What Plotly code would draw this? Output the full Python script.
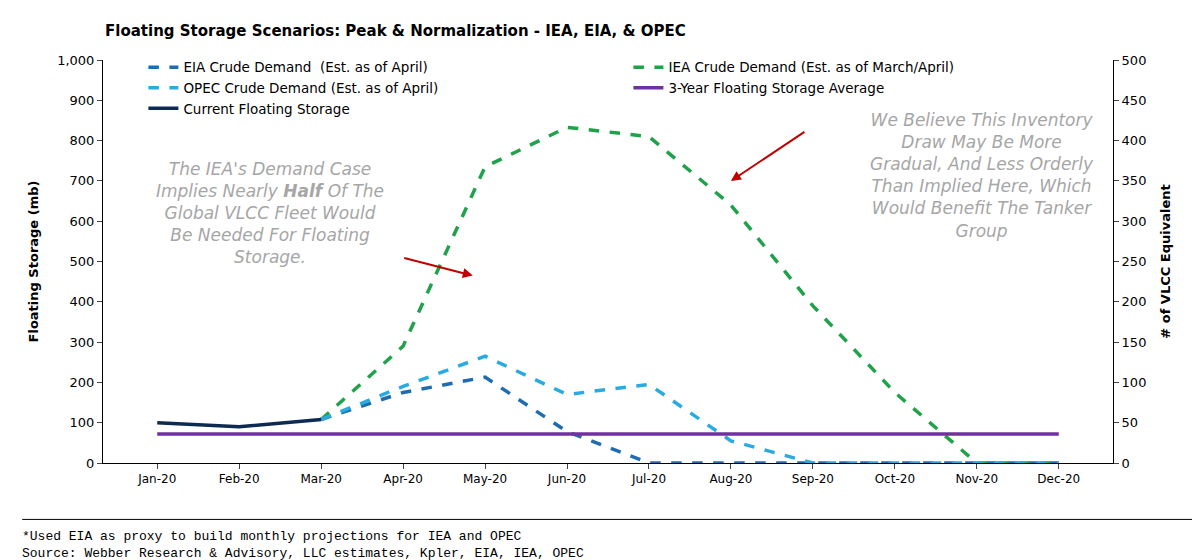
import plotly.graph_objects as go

months = ["Jan-20", "Feb-20", "Mar-20", "Apr-20", "May-20", "Jun-20",
          "Jul-20", "Aug-20", "Sep-20", "Oct-20", "Nov-20", "Dec-20"]
current = [100, 90, 108, None, None, None, None, None, None, None, None, None]
eia = [None, None, 108, 175, 213, 78, 0, 0, 0, 0, 0, 0]
iea = [None, None, 108, 290, 735, 833, 810, 640, 390, 175, 0, 0]
opec = [None, None, 108, 190, 265, 170, 195, 55, 0, 0, 0, 0]
avg3 = [72] * 12

FONT = "DejaVu Sans"

fig = go.Figure()
fig.add_trace(go.Scatter(x=months, y=eia, name="EIA Crude Demand  (Est. as of April)",
                         mode="lines", line=dict(color="#1f6db0", width=3.5, dash="dash")))
fig.add_trace(go.Scatter(x=months, y=iea, name="IEA Crude Demand (Est. as of March/April)",
                         mode="lines", line=dict(color="#1fa24a", width=3.5, dash="dash")))
fig.add_trace(go.Scatter(x=months, y=opec, name="OPEC Crude Demand (Est. as of April)",
                         mode="lines", line=dict(color="#29abe2", width=3.5, dash="dash")))
fig.add_trace(go.Scatter(x=months, y=avg3, name="3-Year Floating Storage Average",
                         mode="lines", line=dict(color="#7030a0", width=3.5)))
fig.add_trace(go.Scatter(x=months, y=current, name="Current Floating Storage",
                         mode="lines", line=dict(color="#0d2a52", width=3.5)))
# invisible trace to show the right axis
fig.add_trace(go.Scatter(x=months, y=[None] * 12, yaxis="y2", showlegend=False))

fig.update_layout(
    width=1200, height=560,
    plot_bgcolor="white", paper_bgcolor="white",
    margin=dict(l=95, r=95, t=52, b=105),
    font=dict(family=FONT, size=13, color="black"),
    showlegend=True,
    legend=dict(x=0.04, y=1.02, xanchor="left", yanchor="top", orientation="h",
                entrywidth=440, tracegroupgap=0, bgcolor="rgba(0,0,0,0)",
                font=dict(size=13.5)),
    xaxis=dict(showline=True, linecolor="black", linewidth=1, ticks="outside",
               tickfont=dict(size=12, family=FONT), showgrid=False),
    yaxis=dict(range=[0, 1000], dtick=100, tickformat=",", showline=True,
               linecolor="black", ticks="outside", showgrid=False,
               title=dict(text="<b>Floating Storage (mb)</b>", font=dict(size=13)),
               tickfont=dict(size=13)),
    yaxis2=dict(range=[0, 500], dtick=50, overlaying="y", side="right",
                showline=True, linecolor="black", ticks="outside", showgrid=False,
                title=dict(text="<b># of VLCC Equivalent</b>", font=dict(size=13)),
                tickfont=dict(size=13)),
)

fig.add_annotation(text="<b>Floating Storage Scenarios: Peak & Normalization - IEA, EIA, & OPEC</b>",
                   xref="paper", yref="paper", x=0.0, y=1.0, yshift=40,
                   xanchor="left", yanchor="top", showarrow=False, font=dict(size=15))
fig.add_annotation(text="The IEA's Demand Case<br>Implies Nearly <b>Half</b> Of The<br>Global VLCC Fleet Would<br>Be Needed For Floating<br>Storage.",
                   xref="paper", yref="paper", x=0.165, y=0.76, xanchor="center", yanchor="top",
                   showarrow=False, font=dict(size=17, color="#a6a6a6", family=FONT),
                   align="center")
fig.add_annotation(text="<i>We Believe This Inventory<br>Draw May Be More<br>Gradual, And Less Orderly<br>Than Implied Here, Which<br>Would Benefit The Tanker<br>Group</i>",
                   xref="paper", yref="paper", x=0.87, y=0.88, xanchor="center", yanchor="top",
                   showarrow=False, font=dict(size=17, color="#a6a6a6", family=FONT),
                   align="center")
fig.layout.annotations[1].text = "<i>" + fig.layout.annotations[1].text + "</i>"
fig.add_annotation(x=3.85, y=465, ax=-70, ay=-18, showarrow=True, arrowhead=2,
                   arrowcolor="#c00000", arrowwidth=2, text="")
fig.add_annotation(x=7.0, y=700, ax=75, ay=-50, showarrow=True, arrowhead=2,
                   arrowcolor="#c00000", arrowwidth=2, text="")
fig.add_annotation(text="*Used EIA as proxy to build monthly projections for IEA and OPEC<br>Source: Webber Research & Advisory, LLC estimates, Kpler, EIA, IEA, OPEC",
                   xref="paper", yref="paper", x=-0.082, y=-0.16, xanchor="left", yanchor="top",
                   showarrow=False, align="left", font=dict(size=13, family="Liberation Mono"))
fig.add_shape(type="line", xref="paper", yref="paper", x0=-0.08, x1=1.08, y0=-0.14, y1=-0.14,
              line=dict(color="black", width=1))

fig.write_html("out.html")
